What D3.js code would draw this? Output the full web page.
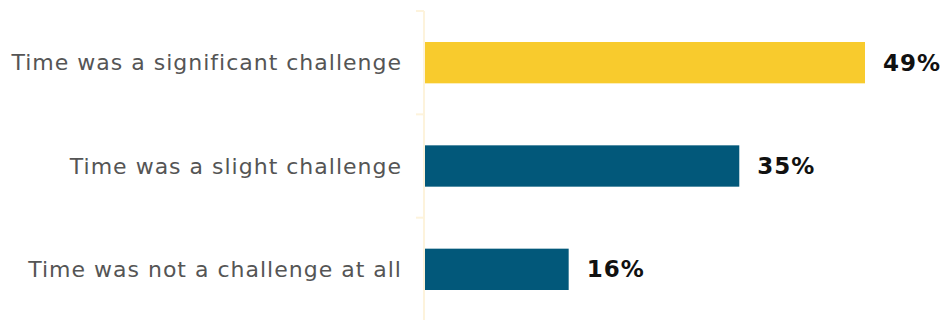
<!DOCTYPE html>
<html>
<head>
<meta charset="utf-8">
<script src="https://cdn.jsdelivr.net/npm/d3@7"></script>
<style>
  body { margin: 0; background: #fff; }
  .catLabel { font-family: "DejaVu Sans", sans-serif; font-size: 22px; letter-spacing: 1px; fill: #555; }
  .valLabel { font-family: "DejaVu Sans", sans-serif; font-size: 23px; font-weight: 700; letter-spacing: 1px; fill: #111; }
</style>
</head>
<body>
<div id="chart"></div>
<script>
var categories = ["Time was a significant challenge", "Time was a slight challenge", "Time was not a challenge at all"];
var values = [49, 35, 16];
var colors = ["#f8cb2d", "#02587a", "#02587a"];

var svgWidth = 944;
var svgHeight = 320;
var margin = { top: 11, right: 0, bottom: 0, left: 425 };

var svg = d3.select("#chart")
    .append("svg")
    .attr("width", svgWidth)
    .attr("height", svgHeight);

var chartGroup = svg.append("g")
    .attr("transform", `translate(${margin.left}, ${margin.top})`);

var height = svgHeight - margin.top - margin.bottom + 1;

// 49% reaches x = 865
var xScale = d3.scaleLinear().domain([0, 49]).range([0, 440]);
var yScale = d3.scaleBand().domain(categories).range([0, height]).paddingInner(0.6).paddingOuter(0.3);

// axis line with ticks at band boundaries
var axis = chartGroup.append("g").attr("class", "yaxis");
axis.append("line")
    .attr("x1", -1).attr("x2", -1)
    .attr("y1", 0).attr("y2", height)
    .attr("stroke", "#fdf3dc").attr("stroke-width", 2);
axis.selectAll(".tick")
    .data(d3.range(categories.length))
    .enter()
    .append("line")
    .attr("x1", -9).attr("x2", -1)
    .attr("y1", i => i * height / categories.length)
    .attr("y2", i => i * height / categories.length)
    .attr("stroke", "#fdf3dc").attr("stroke-width", 2);

// bars
chartGroup.selectAll("rect")
    .data(values)
    .enter()
    .append("rect")
    .attr("x", 0)
    .attr("y", (d, i) => yScale(categories[i]))
    .attr("width", d => xScale(d))
    .attr("height", yScale.bandwidth())
    .attr("fill", (d, i) => colors[i]);

// category labels
chartGroup.selectAll(".catLabel")
    .data(categories)
    .enter()
    .append("text")
    .attr("class", "catLabel")
    .attr("x", -23)
    .attr("y", d => yScale(d) + yScale.bandwidth() / 2)
    .attr("dy", "0.35em")
    .attr("text-anchor", "end")
    .text(d => d);

// value labels
chartGroup.selectAll(".valLabel")
    .data(values)
    .enter()
    .append("text")
    .attr("class", "valLabel")
    .attr("x", d => xScale(d) + 18)
    .attr("y", (d, i) => yScale(categories[i]) + yScale.bandwidth() / 2)
    .attr("dy", "0.35em")
    .text(d => d + "%");
</script>
</body>
</html>
